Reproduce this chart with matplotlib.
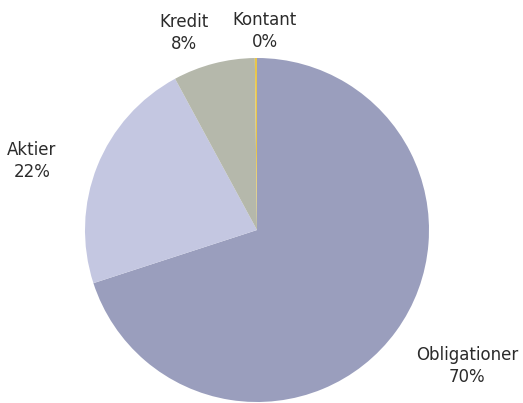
import matplotlib
matplotlib.use("Agg")
import matplotlib.pyplot as plt

# allocation shares (percent), clockwise from 12 o'clock
categories = ["Obligationer", "Aktier", "Kredit", "Kontant"]
shares = [70.0, 22.1, 7.7, 0.2]
colors = ["#9a9ebd", "#c4c7e1", "#b5b8ab", "#e8c64a"]

W, H = 523, 403
fig = plt.figure(figsize=(W / 100, H / 100), dpi=100)
ax = fig.add_axes([0, 0, 1, 1])

cx, cy, r = 257, H - 230, 172
ax.pie(shares, colors=colors, startangle=90, counterclock=False,
       center=(cx, cy), radius=r, frame=True,
       wedgeprops=dict(linewidth=0))
ax.set_xlim(0, W)
ax.set_ylim(0, H)
ax.set_aspect("equal")
ax.axis("off")

# label anchors in pixel space (x, y from top)
label_pos = {"Obligationer": (467, 366), "Aktier": (32, 161),
             "Kredit": (184, 33), "Kontant": (265, 31)}
for name, val in zip(categories, shares):
    x, y = label_pos[name]
    ax.text(x, H - y, f"{name}\n{round(val)}%", ha="center", va="center",
            fontsize=12, color="#2b2b2b", linespacing=1.3,
            family="DejaVu Sans")

fig.savefig("out.png", dpi=100, facecolor="white")
